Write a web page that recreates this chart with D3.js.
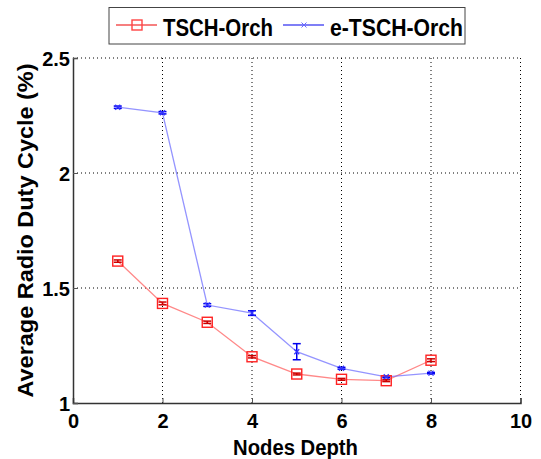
<!DOCTYPE html>
<html><head><meta charset="utf-8">
<script src="https://cdn.jsdelivr.net/npm/d3@7"></script>
<style>body{margin:0;background:#fff}svg{display:block}text{font-family:Arial,"Liberation Sans",sans-serif;font-weight:bold}</style>
</head><body><svg id="c" width="541" height="459"></svg>
<script>
const depth = [1,2,3,4,5,6,7,8];
const tschOrch = [1.617,1.433,1.351,1.201,1.126,1.103,1.097,1.186];
const tschOrchErr = [0.005,0.006,0.005,0.005,0.004,0.004,0.004,0.006];
const eTschOrch = [2.286,2.262,1.426,1.391,1.223,1.151,1.114,1.130];
const eTschOrchErr = [0.005,0.005,0.006,0.010,0.035,0.004,0.004,0.003];
const xTicks = [0,2,4,6,8,10];
const yTicks = [1,1.5,2,2.5];
const seriesNames = ["TSCH-Orch","e-TSCH-Orch"];

const svg = d3.select("#c");
const x = d3.scaleLinear().domain([0,10]).range([73,520.5]);
const y = d3.scaleLinear().domain([1,2.5]).range([403,58]);

// grid
const g = svg.append("g");
g.selectAll(".gx").data(xTicks.slice(1)).enter().append("line")
 .attr("x1",d=>x(d)).attr("x2",d=>x(d)).attr("y1",y(1)).attr("y2",y(2.5))
 .attr("stroke","#000").attr("stroke-width",1).attr("stroke-dasharray","1,3");
g.selectAll(".gy").data(yTicks.slice(1)).enter().append("line")
 .attr("y1",d=>y(d)).attr("y2",d=>y(d)).attr("x1",x(0)).attr("x2",x(10))
 .attr("stroke","#000").attr("stroke-width",1).attr("stroke-dasharray","1,3");

// axes
const xAxis = d3.axisBottom(x).tickValues(xTicks).tickSize(-5).tickPadding(11).tickFormat(d3.format("d"));
const yAxis = d3.axisLeft(y).tickValues(yTicks).tickSize(-5).tickPadding(3).tickFormat(d=>d===1||d===2?String(d):d3.format(".1f")(d));
const ax = svg.append("g").attr("transform",`translate(0,${y(1)})`).call(xAxis);
const ay = svg.append("g").attr("transform",`translate(${x(0)},0)`).call(yAxis);
[ax,ay].forEach(a=>{
  a.select(".domain").attr("stroke","#333").attr("stroke-width",1.5);
  a.selectAll(".tick line").attr("stroke","#555");
  a.selectAll(".tick text").attr("font-size",20).attr("fill","#000").attr("font-family","Arial, Liberation Sans, sans-serif").attr("font-weight","bold");
});
ax.selectAll(".tick text").attr("dy","0.71em");
ay.selectAll(".tick text").attr("dy","0.36em");

// axis labels
svg.append("text").attr("x",295.5).attr("y",455).attr("text-anchor","middle").attr("font-size",22)
 .attr("textLength",125).attr("lengthAdjust","spacingAndGlyphs").text("Nodes Depth");
svg.append("text").attr("transform","translate(33,230.5) rotate(-90)").attr("text-anchor","middle").attr("font-size",22)
 .attr("textLength",334).attr("lengthAdjust","spacingAndGlyphs").text("Average Radio Duty Cycle (%)");

const line = d3.line().x((d,i)=>x(depth[i])).y(d=>y(d));

svg.append("path").datum(tschOrch).attr("d",line).attr("fill","none").attr("stroke","#ff5555").attr("stroke-opacity",0.7).attr("stroke-width",1.3);
svg.append("path").datum(eTschOrch).attr("d",line).attr("fill","none").attr("stroke","#6666ff").attr("stroke-opacity",0.7).attr("stroke-width",1.3);

function errBars(vals, errs, color){
  const eg = svg.append("g").attr("stroke",color).attr("stroke-width",1.5);
  vals.forEach((v,i)=>{
    const cx = x(depth[i]), t = y(v+errs[i]), b = y(v-errs[i]);
    eg.append("line").attr("x1",cx).attr("x2",cx).attr("y1",t).attr("y2",b);
    eg.append("line").attr("x1",cx-4).attr("x2",cx+4).attr("y1",t).attr("y2",t);
    eg.append("line").attr("x1",cx-4).attr("x2",cx+4).attr("y1",b).attr("y2",b);
  });
}
errBars(eTschOrch, eTschOrchErr, "#0000ee");
errBars(tschOrch, tschOrchErr, "#cc0000");

svg.selectAll(".sq").data(tschOrch).enter().append("rect")
 .attr("x",(d,i)=>x(depth[i])-5).attr("y",d=>y(d)-5).attr("width",10).attr("height",10)
 .attr("fill","none").attr("stroke","#ff2222").attr("stroke-width",1.4);
svg.selectAll(".xm").data(eTschOrch).enter().append("path")
 .attr("d",(d,i)=>{const cx=x(depth[i]),cy=y(d),r=2.5;return `M${cx-r},${cy-r}L${cx+r},${cy+r}M${cx-r},${cy+r}L${cx+r},${cy-r}`;})
 .attr("stroke","#3333ff").attr("stroke-width",1.2);

// legend
const lg = svg.append("g");
lg.append("rect").attr("x",109).attr("y",7.5).attr("width",356).attr("height",36.5).attr("fill","#fff").attr("stroke","#444").attr("stroke-width",1);
lg.append("line").attr("x1",116).attr("x2",157).attr("y1",25).attr("y2",25).attr("stroke","#ee0000").attr("stroke-width",1.2);
lg.append("rect").attr("x",132).attr("y",20).attr("width",10).attr("height",10).attr("fill","none").attr("stroke","#ff4444").attr("stroke-width",1.4);
lg.append("text").attr("x",163).attr("y",36).attr("font-size",24).attr("textLength",110).attr("lengthAdjust","spacingAndGlyphs").text(seriesNames[0]);
lg.append("line").attr("x1",283).attr("x2",324).attr("y1",25).attr("y2",25).attr("stroke","#0000ee").attr("stroke-width",1.2);
lg.append("path").attr("d","M301.5,22.5L306.5,27.5M301.5,27.5L306.5,22.5").attr("stroke","#6666ff").attr("stroke-width",1);
lg.append("text").attr("x",330).attr("y",36).attr("font-size",24).attr("textLength",133).attr("lengthAdjust","spacingAndGlyphs").text(seriesNames[1]);
</script></body></html>
